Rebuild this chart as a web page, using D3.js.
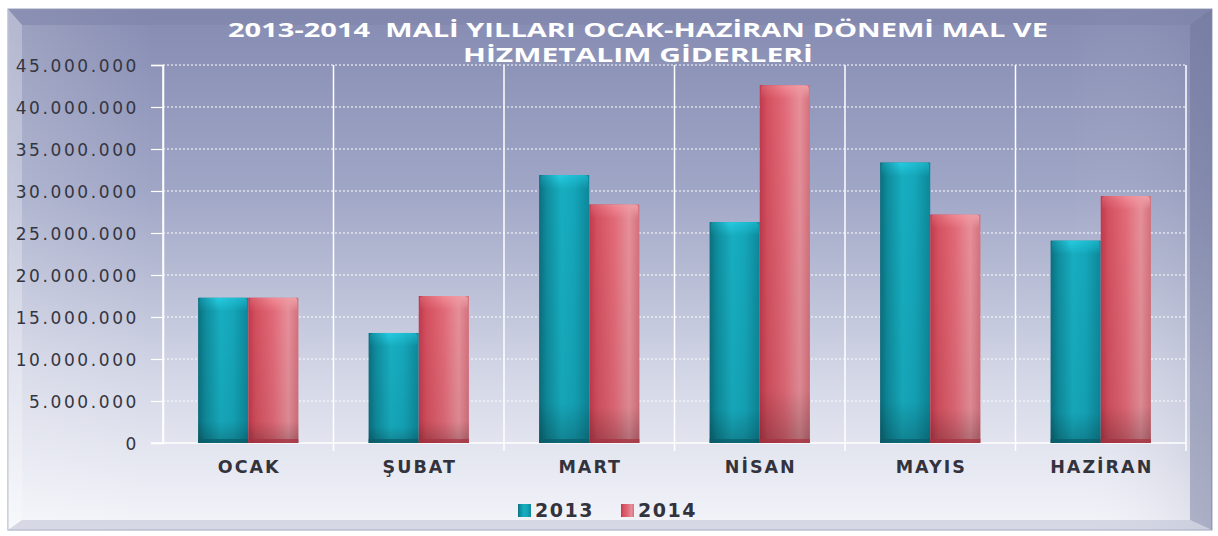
<!DOCTYPE html>
<html>
<head>
<meta charset="utf-8">
<script src="https://cdn.jsdelivr.net/npm/d3@7"></script>
<style>
  body { margin: 0; background: #fff; }
  svg { display: block; }
</style>
</head>
<body>
<div id="chart"></div>
<script>
// data
var months = ["OCAK", "ŞUBAT", "MART", "NİSAN", "MAYIS", "HAZİRAN"];
var years = ["2013", "2014"];
var values2013 = [17300000, 13100000, 31900000, 26300000, 33400000, 24100000];
var values2014 = [17300000, 17500000, 28400000, 42600000, 27200000, 29400000];
var yTicks = [0, 5000000, 10000000, 15000000, 20000000, 25000000, 30000000, 35000000, 40000000, 45000000];
var titleLines = ["2013-2014  MALİ YILLARI OCAK-HAZİRAN DÖNEMİ MAL VE", "HİZMETALIM GİDERLERİ"];

var W = 1218, H = 536;
var plot = {left: 163, right: 1186, top: 65, bottom: 443};

var svg = d3.select("#chart").append("svg")
    .attr("width", W)
    .attr("height", H);

var defs = svg.append("defs");

// background gradient
var bg = defs.append("linearGradient").attr("id", "bg")
    .attr("x1", 0).attr("y1", 0).attr("x2", 0).attr("y2", 1);
bg.append("stop").attr("offset", "0%").attr("stop-color", "#868cb2");
bg.append("stop").attr("offset", "35%").attr("stop-color", "#a0a6c6");
bg.append("stop").attr("offset", "70%").attr("stop-color", "#d3d6e6");
bg.append("stop").attr("offset", "100%").attr("stop-color", "#f4f5fa");

var side = defs.append("linearGradient").attr("id", "side")
    .attr("x1", 0).attr("y1", 0).attr("x2", 1).attr("y2", 0);
side.append("stop").attr("offset", "0%").attr("stop-color", "#ffffff").attr("stop-opacity", 0.18);
side.append("stop").attr("offset", "12%").attr("stop-color", "#ffffff").attr("stop-opacity", 0);
side.append("stop").attr("offset", "88%").attr("stop-color", "#ffffff").attr("stop-opacity", 0);
side.append("stop").attr("offset", "100%").attr("stop-color", "#5a6088").attr("stop-opacity", 0.15);

function barGrad(id, stops) {
    var g = defs.append("linearGradient").attr("id", id)
        .attr("x1", 0).attr("y1", 0).attr("x2", 1).attr("y2", 0);
    stops.forEach(function(s) {
        g.append("stop").attr("offset", s[0]).attr("stop-color", s[1]);
    });
}
barGrad("teal", [["0%", "#0b6f7e"], ["15%", "#0f8d9e"], ["45%", "#17aec1"], ["70%", "#15a6ba"], ["100%", "#0d8799"]]);
barGrad("tealTop", [["0%", "#128ea0"], ["40%", "#27cbe0"], ["100%", "#19b0c4"]]);
barGrad("red", [["0%", "#c0394d"], ["15%", "#d4505f"], ["50%", "#e26a78"], ["80%", "#e6909a"], ["100%", "#d4707c"]]);
barGrad("redTop", [["0%", "#d65a68"], ["50%", "#f08a95"], ["100%", "#eea4ab"]]);

var shade = defs.append("linearGradient").attr("id", "shade")
    .attr("x1", 0).attr("y1", 0).attr("x2", 0).attr("y2", 1);
shade.append("stop").attr("offset", "0%").attr("stop-color", "#000").attr("stop-opacity", 0);
shade.append("stop").attr("offset", "85%").attr("stop-color", "#000").attr("stop-opacity", 0.05);
shade.append("stop").attr("offset", "100%").attr("stop-color", "#000").attr("stop-opacity", 0.25);

var capFade = defs.append("linearGradient").attr("id", "capFade")
    .attr("x1", 0).attr("y1", 0).attr("x2", 0).attr("y2", 1);
capFade.append("stop").attr("offset", "0%").attr("stop-color", "#fff").attr("stop-opacity", 1);
capFade.append("stop").attr("offset", "100%").attr("stop-color", "#fff").attr("stop-opacity", 0);
defs.append("mask").attr("id", "capMask").attr("maskContentUnits", "objectBoundingBox")
    .append("rect").attr("width", 1).attr("height", 1).attr("fill", "url(#capFade)");

// frame with bevel
var fx0 = 8, fy0 = 9, fx1 = 1212, fy1 = 530;
svg.append("rect")
    .attr("x", fx0).attr("y", fy0)
    .attr("width", fx1 - fx0).attr("height", fy1 - fy0)
    .attr("fill", "url(#bg)")
    .attr("stroke", "#9a9fba").attr("stroke-width", 1);
svg.append("rect")
    .attr("x", fx0).attr("y", fy0)
    .attr("width", fx1 - fx0).attr("height", fy1 - fy0)
    .attr("fill", "url(#side)");

var bl = 14, br = 22, bt = 16, bb = 10;
var ix0 = fx0 + bl, iy0 = fy0 + bt, ix1 = fx1 - br, iy1 = fy1 - bb;
// top bevel
svg.append("polygon")
    .attr("points", [[fx0, fy0], [fx1, fy0], [ix1, iy0], [ix0, iy0]].join(" "))
    .attr("fill", "#7e84aa").attr("opacity", 0.55);
// right bevel
svg.append("polygon")
    .attr("points", [[fx1, fy0], [fx1, fy1], [ix1, iy1], [ix1, iy0]].join(" "))
    .attr("fill", "#6d7399").attr("opacity", 0.45);
// left bevel
svg.append("polygon")
    .attr("points", [[fx0, fy0], [ix0, iy0], [ix0, iy1], [fx0, fy1]].join(" "))
    .attr("fill", "#ffffff").attr("opacity", 0.25);
// bottom bevel
svg.append("polygon")
    .attr("points", [[fx0, fy1], [ix0, iy1], [ix1, iy1], [fx1, fy1]].join(" "))
    .attr("fill", "#b8bccf").attr("opacity", 0.5);

// scales
var x0 = d3.scaleBand().domain(months).range([plot.left, plot.right]).paddingInner(0).paddingOuter(0);
var x1 = d3.scaleBand().domain(years).range([0, x0.bandwidth()]).paddingOuter(0.7).paddingInner(0);
var y = d3.scaleLinear().domain([0, 45000000]).range([plot.bottom, plot.top]);

var fmt = function(v) {
    return d3.format(",")(v).replace(/,/g, ".");
};

// grid
var grid = svg.append("g");
grid.selectAll("line.h")
    .data(yTicks.filter(function(d) { return d > 0; }))
    .enter().append("line")
    .attr("class", "h")
    .attr("x1", plot.left).attr("x2", plot.right)
    .attr("y1", function(d) { return y(d); })
    .attr("y2", function(d) { return y(d); })
    .attr("stroke", "#ffffff")
    .attr("stroke-width", 1.2)
    .attr("stroke-dasharray", "2,2");

grid.selectAll("line.v")
    .data(months.concat(["end"]))
    .enter().append("line")
    .attr("class", "v")
    .attr("x1", function(d, i) { return plot.left + i * x0.step(); })
    .attr("x2", function(d, i) { return plot.left + i * x0.step(); })
    .attr("y1", plot.top)
    .attr("y2", function(d, i) { return plot.bottom + (i === 0 ? 0 : 8); })
    .attr("stroke", "#ffffff")
    .attr("stroke-width", 1.5);

// y axis
var yAxis = svg.append("g")
    .attr("transform", "translate(" + plot.left + ",0)")
    .call(d3.axisLeft(y).tickValues(yTicks).tickSize(12).tickPadding(12).tickFormat(fmt));
yAxis.select(".domain").attr("stroke", "#ffffff").attr("stroke-width", 1.5);
yAxis.selectAll(".tick line").attr("stroke", "#ffffff").attr("stroke-width", 1.2);
yAxis.selectAll(".tick text")
    .attr("fill", "#35353f")
    .style("font-family", "'DejaVu Sans', sans-serif")
    .style("font-size", "17px")
    .style("letter-spacing", "2.6px")
    .attr("dy", "0.36em");

// baseline
svg.append("line")
    .attr("x1", plot.left - 12).attr("x2", plot.right)
    .attr("y1", plot.bottom).attr("y2", plot.bottom)
    .attr("stroke", "#ffffff").attr("stroke-width", 1.5);

// bars
var series = [
    {year: "2013", values: values2013, fill: "url(#teal)", top: "url(#tealTop)", bottom: "#0a5d69"},
    {year: "2014", values: values2014, fill: "url(#red)", top: "url(#redTop)", bottom: "#a8303f"}
];

var groups = svg.selectAll("g.month")
    .data(months)
    .enter().append("g")
    .attr("class", "month")
    .attr("transform", function(d) { return "translate(" + x0(d) + ",0)"; });

series.forEach(function(s) {
    groups.each(function(m, i) {
        var g = d3.select(this);
        var bx = x1(s.year), bw = x1.bandwidth();
        var by = y(s.values[i]), bh = plot.bottom - by;
        g.append("rect")
            .attr("x", bx).attr("y", by).attr("width", bw).attr("height", bh)
            .attr("fill", s.fill);
        g.append("rect")
            .attr("x", bx).attr("y", by).attr("width", bw).attr("height", bh)
            .attr("fill", "url(#shade)");
        g.append("rect")
            .attr("x", bx + 1).attr("y", by).attr("width", bw - 2).attr("height", 14)
            .attr("rx", 4)
            .attr("fill", s.top)
            .attr("mask", "url(#capMask)");
        g.append("rect")
            .attr("x", bx).attr("y", plot.bottom - 4).attr("width", bw).attr("height", 4)
            .attr("fill", s.bottom).attr("opacity", 0.7);
    });
});

// category labels
svg.selectAll("text.cat")
    .data(months)
    .enter().append("text")
    .attr("class", "cat")
    .attr("x", function(d) { return x0(d) + x0.bandwidth() / 2 + 1; })
    .attr("y", 473)
    .attr("text-anchor", "middle")
    .attr("fill", "#33333d")
    .style("font-family", "'DejaVu Sans', sans-serif")
    .style("font-weight", "bold")
    .style("font-size", "17.5px")
    .style("letter-spacing", "2px")
    .text(function(d) { return d; });

// title
var titleWidths = [820, 350];
svg.selectAll("text.title")
    .data(titleLines)
    .enter().append("text")
    .attr("class", "title")
    .attr("x", 638)
    .attr("y", function(d, i) { return 37 + i * 25; })
    .attr("text-anchor", "middle")
    .attr("fill", "#ffffff")
    .attr("textLength", function(d, i) { return titleWidths[i]; })
    .attr("lengthAdjust", "spacingAndGlyphs")
    .style("white-space", "pre")
    .style("font-family", "'Open Sans', 'DejaVu Sans', sans-serif")
    .style("font-weight", "bold")
    .style("font-size", "19px")
    .text(function(d) { return d; });

// legend
var legend = svg.append("g").attr("transform", "translate(518,512)");
var legendItems = legend.selectAll("g")
    .data(series)
    .enter().append("g")
    .attr("transform", function(d, i) { return "translate(" + (i * 103) + ",0)"; });
legendItems.append("rect")
    .attr("x", 0).attr("y", -8).attr("width", 13).attr("height", 13)
    .attr("fill", function(d) { return d.fill; });
legendItems.append("text")
    .attr("x", 17).attr("y", 5)
    .attr("fill", "#33333d")
    .style("font-family", "'DejaVu Sans', sans-serif")
    .style("font-weight", "bold")
    .style("font-size", "19px")
    .style("letter-spacing", "1.5px")
    .text(function(d) { return d.year; });
</script>
</body>
</html>
